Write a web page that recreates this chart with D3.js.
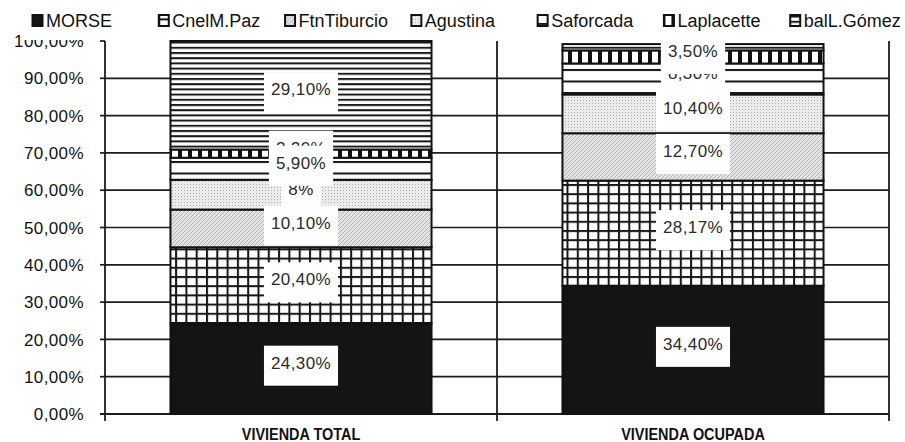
<html>
<head>
    <script src="https://d3js.org/d3.v7.min.js" charset="utf-8"></script>
    <style>
        body { margin: 0; background: #fff; }
        text { font-family: "Liberation Sans", Arial, sans-serif; }
    </style>
</head>

<body>
    <script type="text/javascript">
        // Data (percent of each housing group per zone)
        var groups = ["VIVIENDA TOTAL", "VIVIENDA OCUPADA"];
        var zones = ["MORSE", "CnelM.Paz", "FtnTiburcio", "Agustina", "Saforcada", "Laplacette", "balL.Gómez"];
        var viviendaTotal = [24.30, 20.40, 10.10, 8, 5.90, 2.20, 29.10];
        var viviendaOcupada = [34.40, 28.17, 12.70, 10.40, 8.30, 3.50, 1.70];
        var yTicks = [0, 10, 20, 30, 40, 50, 60, 70, 80, 90, 100];

        var width = 905;
        var height = 442;

        var svg = d3.select("body").append("svg")
            .attr("width", width)
            .attr("height", height);

        // Spanish number format: comma as decimal separator
        var locale = d3.formatLocale({ decimal: ",", thousands: ".", grouping: [3], currency: ["", "€"] });
        var fmt2 = locale.format(".2f");
        var pct = v => (Number.isInteger(v) && v < 100 && v > 0 ? v : fmt2(v)) + "%";

        // Build the table the stack layout needs
        var table = groups.map(function(g, i) {
            var row = { group: g };
            var vals = i === 0 ? viviendaTotal : viviendaOcupada;
            zones.forEach((z, j) => row[z] = vals[j]);
            return row;
        });
        var series = d3.stack().keys(zones)(table);

        var x = d3.scaleBand()
            .domain(groups)
            .range([105, 889])
            .paddingInner(0.334)
            .paddingOuter(0.167);

        var y = d3.scaleLinear()
            .domain([0, 100])
            .range([414, 41]);

        // Fill patterns (black & white print look)
        var defs = svg.append("defs");

        var pGrid = defs.append("pattern").attr("id", "p-grid")
            .attr("patternUnits", "userSpaceOnUse").attr("width", 10.3).attr("height", 9.2);
        pGrid.append("rect").attr("width", 10.3).attr("height", 9.2).attr("fill", "#fff");
        pGrid.append("rect").attr("width", 2).attr("height", 9.2).attr("fill", "#161616");
        pGrid.append("rect").attr("width", 10.3).attr("height", 2).attr("fill", "#161616");

        var pHatch = defs.append("pattern").attr("id", "p-hatch")
            .attr("patternUnits", "userSpaceOnUse").attr("width", 4).attr("height", 4);
        pHatch.append("rect").attr("width", 4).attr("height", 4).attr("fill", "#e4e4e4");
        pHatch.append("path").attr("d", "M0,4L4,0M-1,1L1,-1M3,5L5,3")
            .attr("stroke", "#a8a8a8").attr("stroke-width", 0.8);

        var pDots = defs.append("pattern").attr("id", "p-dots")
            .attr("patternUnits", "userSpaceOnUse").attr("width", 3).attr("height", 3);
        pDots.append("rect").attr("width", 3).attr("height", 3).attr("fill", "#ebebeb");
        pDots.append("rect").attr("x", 1).attr("y", 1).attr("width", 1).attr("height", 1).attr("fill", "#adadad");

        var pLines = defs.append("pattern").attr("id", "p-lines")
            .attr("patternUnits", "userSpaceOnUse").attr("width", 10).attr("height", 11.5);
        pLines.append("rect").attr("width", 10).attr("height", 11.5).attr("fill", "#fff");
        pLines.append("rect").attr("width", 10).attr("height", 2).attr("fill", "#161616");

        var pBars = defs.append("pattern").attr("id", "p-bars")
            .attr("patternUnits", "userSpaceOnUse").attr("width", 10).attr("height", 40);
        pBars.append("rect").attr("width", 10).attr("height", 40).attr("fill", "#111");
        pBars.append("rect").attr("x", 2).attr("width", 6).attr("height", 40).attr("fill", "#fff");

        var pStripes = defs.append("pattern").attr("id", "p-stripes")
            .attr("patternUnits", "userSpaceOnUse").attr("width", 10).attr("height", 5.2);
        pStripes.append("rect").attr("width", 10).attr("height", 5.2).attr("fill", "#fff");
        pStripes.append("rect").attr("width", 10).attr("height", 2).attr("fill", "#1a1a1a");

        var fill = d3.scaleOrdinal()
            .domain(zones)
            .range(["#141414", "url(#p-grid)", "url(#p-hatch)", "url(#p-dots)", "url(#p-lines)", "url(#p-bars)", "url(#p-stripes)"]);

        // Horizontal gridlines and y tick marks
        svg.append("g").selectAll("line")
            .data(yTicks.filter(t => t > 0 && t < 100))
            .join("line")
                .attr("x1", x.range()[0]).attr("x2", x.range()[1])
                .attr("y1", d => y(d)).attr("y2", d => y(d))
                .attr("stroke", "#1c1c1c").attr("stroke-width", 1.7);

        svg.append("g").selectAll("line")
            .data(yTicks)
            .join("line")
                .attr("x1", x.range()[0] - 5).attr("x2", x.range()[0])
                .attr("y1", d => y(d)).attr("y2", d => y(d))
                .attr("stroke", "#1c1c1c").attr("stroke-width", 1.7);

        svg.append("line")
            .attr("x1", x.range()[0] - 5).attr("x2", x.range()[1])
            .attr("y1", y(0)).attr("y2", y(0))
            .attr("stroke", "#1c1c1c").attr("stroke-width", 1.8);

        // Vertical category separators (axis, middle, right edge)
        var seps = groups.map(g => x(g) - x.step() * x.paddingInner() / 2).concat([x.range()[1]]);
        svg.append("g").selectAll("line")
            .data(seps)
            .join("line")
                .attr("x1", d => d).attr("x2", d => d)
                .attr("y1", y(100)).attr("y2", y(0) + 7)
                .attr("stroke", "#1c1c1c").attr("stroke-width", 1.8);

        // Y tick labels
        svg.append("g").selectAll("text")
            .data(yTicks)
            .join("text")
                .attr("x", 84)
                .attr("y", d => y(d))
                .attr("dy", "0.36em")
                .attr("text-anchor", "end")
                .attr("font-size", 17)
                .attr("letter-spacing", 0.4)
                .attr("fill", "#111")
                .text(d => fmt2(d) + "%");

        // Stacked segments
        svg.append("g").selectAll("g")
            .data(series)
            .join("g")
                .attr("fill", d => fill(d.key))
            .selectAll("rect")
            .data(d => d)
            .join("rect")
                .attr("x", d => x(d.data.group))
                .attr("width", x.bandwidth())
                .attr("y", d => y(d[1]))
                .attr("height", d => y(d[0]) - y(d[1]))
                .attr("stroke", "#111")
                .attr("stroke-width", 2);

        // Value labels in white boxes. Series order, but labels of very thin
        // segments go underneath; values under 2% get no label.
        var labels = [];
        series.forEach(function(s, si) {
            s.forEach(function(d) {
                var v = d.data[s.key];
                if (v >= 2) labels.push({ d: d, v: v, z: (v < 3 ? 0 : 1) * 10 + si });
            });
        });
        labels.sort((a, b) => a.z - b.z);

        var labelLayer = svg.append("g");
        labels.forEach(function(l) {
            var d = l.d;
            var cx = x(d.data.group) + x.bandwidth() / 2;
            var cy = (y(d[0]) + y(d[1])) / 2 - 6;
            var g = labelLayer.append("g");
            var box = g.append("rect").attr("fill", "#fff");
            var t = g.append("text")
                .attr("x", cx)
                .attr("y", cy)
                .attr("dy", "0.36em")
                .attr("text-anchor", "middle")
                .attr("font-size", 17)
                .attr("letter-spacing", 0.4)
                .attr("fill", "#2a2a2a")
                .text(pct(l.v));
            var w = t.node().getComputedTextLength() + 14;
            box.attr("x", cx - w / 2).attr("y", cy - 17).attr("width", w).attr("height", 40);
        });

        // Category labels (bold, slightly condensed)
        svg.append("g").selectAll("text")
            .data(groups)
            .join("text")
                .attr("transform", d => "translate(" + (x(d) + x.bandwidth() / 2) + ",440) scale(0.85,1)")
                .attr("text-anchor", "middle")
                .attr("font-size", 17)
                .attr("font-weight", "bold")
                .attr("fill", "#111")
                .text(d => d);

        // Legend along the top (white box hides the top of the 100% label)
        var legendX = d3.scaleBand().domain(zones).range([32, 916]);
        var legend = svg.append("g");
        legend.append("rect")
            .attr("x", 24).attr("y", 0)
            .attr("width", width - 24).attr("height", 40)
            .attr("fill", "#fff");

        var item = legend.selectAll("g")
            .data(zones)
            .join("g")
                .attr("transform", d => "translate(" + legendX(d) + ",0)");
        item.append("rect")
            .attr("x", 0.5).attr("y", 15)
            .attr("width", 10).attr("height", 11)
            .attr("fill", d => fill(d))
            .attr("stroke", "#111")
            .attr("stroke-width", 2);
        item.append("text")
            .attr("x", 14)
            .attr("y", 27)
            .attr("font-size", 18)
            .attr("fill", "#111")
            .text(d => d);
    </script>
</body>

</html>
